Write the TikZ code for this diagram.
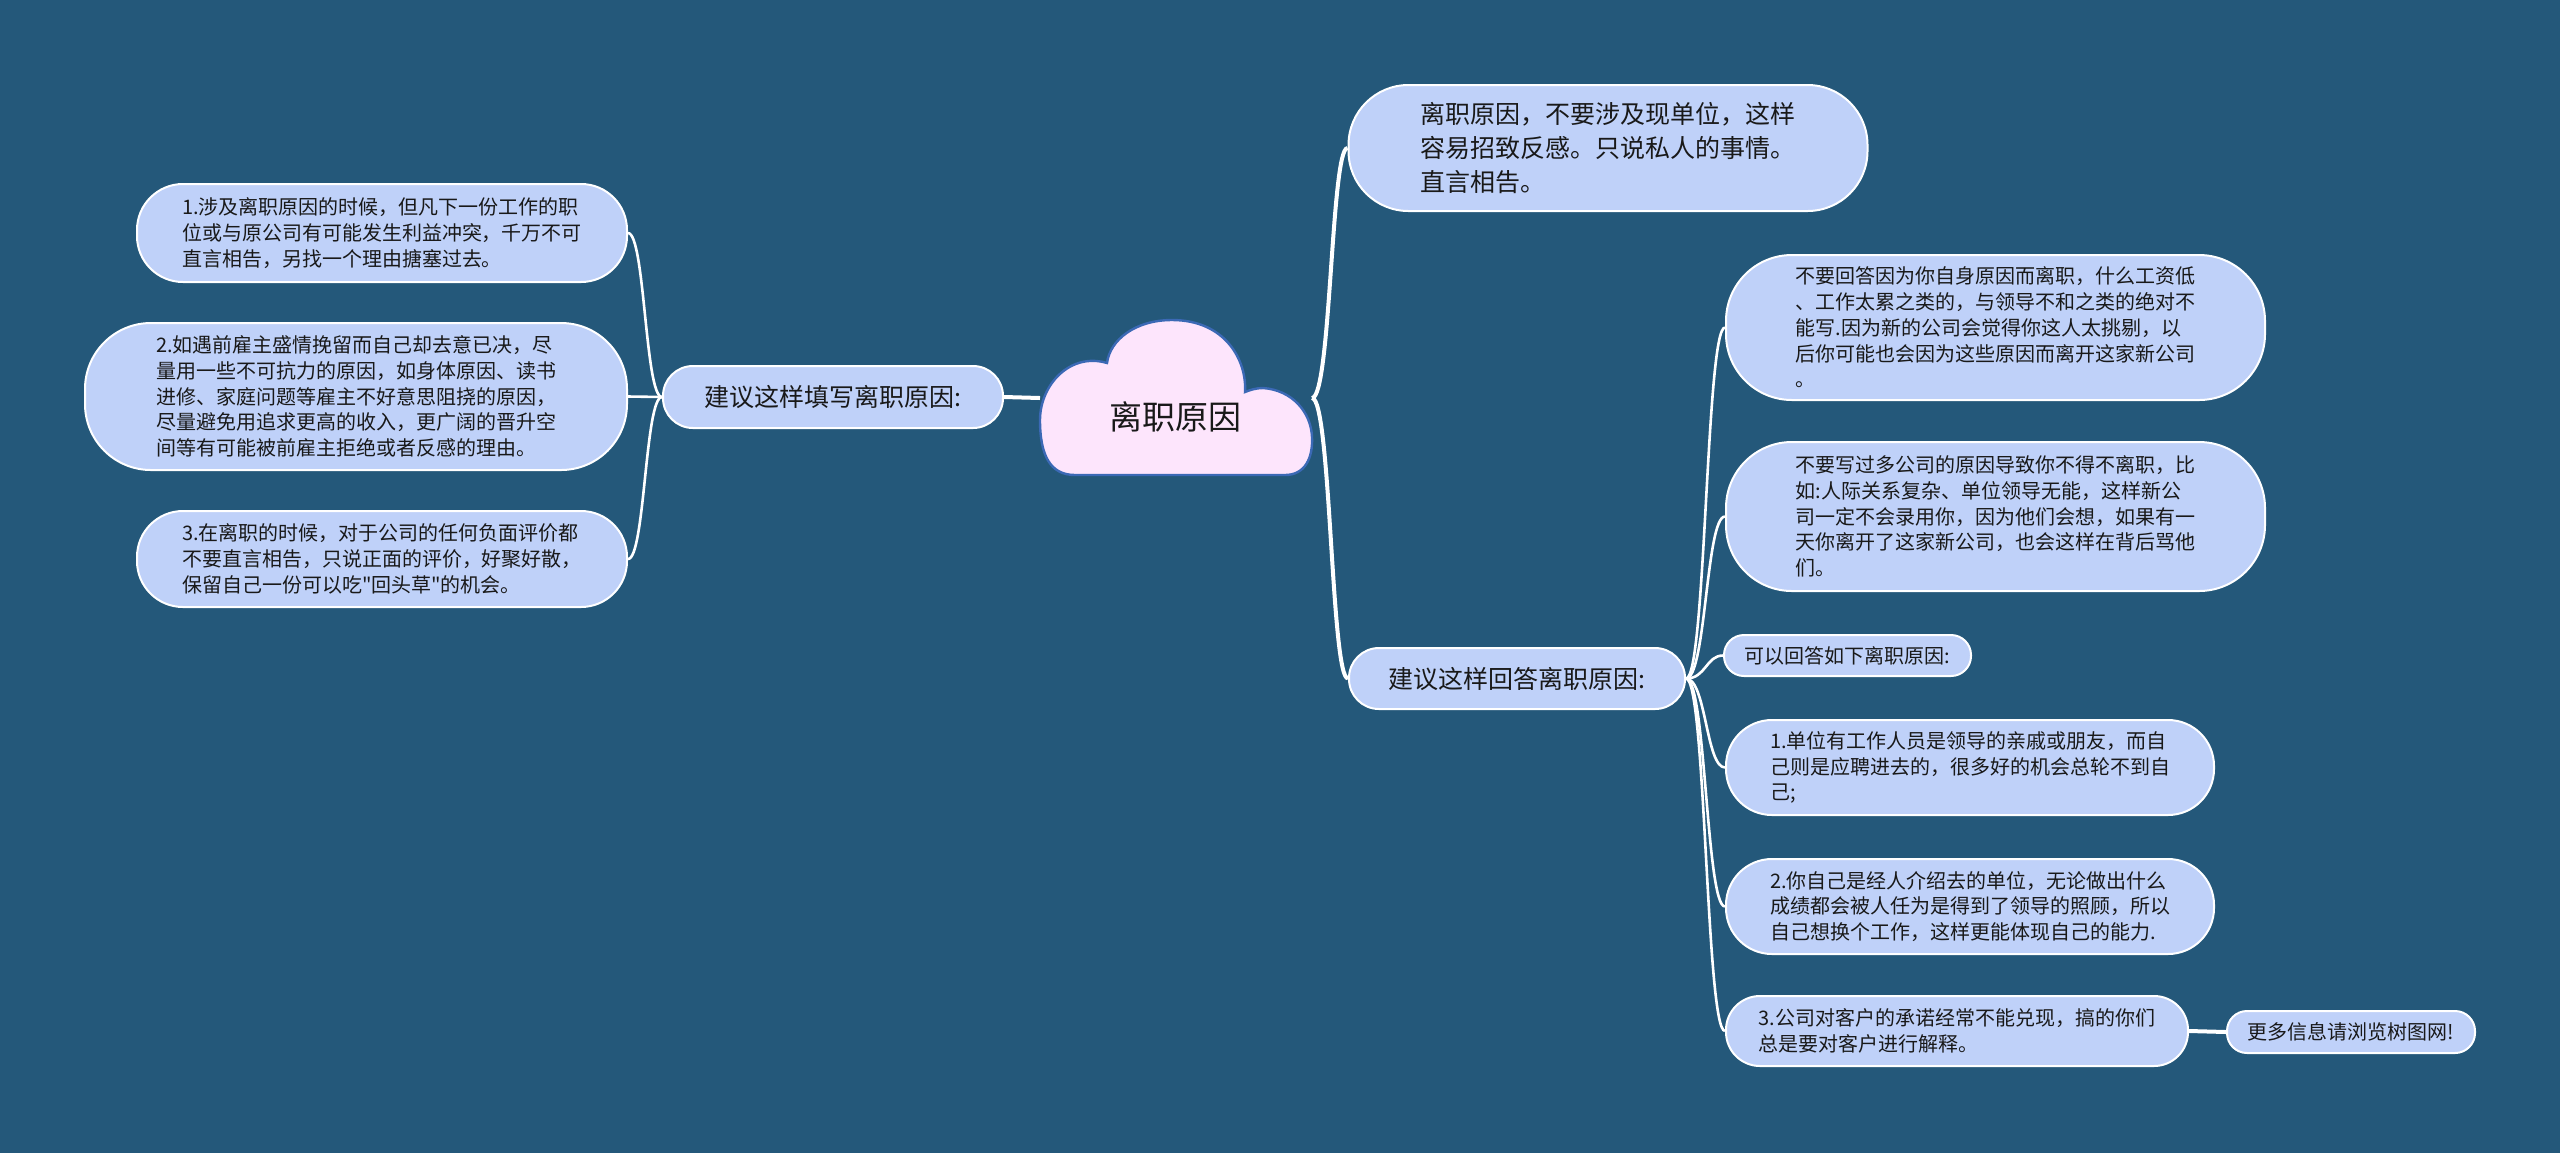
\documentclass[tikz,border=0pt]{standalone}
\usepackage{fontspec}
\setmainfont{Noto Sans CJK SC}
\definecolor{bg}{RGB}{36,88,122}
\definecolor{nodefill}{RGB}{191,209,249}
\definecolor{cloudfill}{RGB}{253,229,252}
\definecolor{cloudline}{RGB}{59,105,181}
\definecolor{txt}{RGB}{25,25,25}
\begin{document}
\begin{tikzpicture}[x=0.5pt,y=-0.5pt,
  box/.style={draw=white, line width=1pt, fill=nodefill, text=txt, align=left, inner sep=0pt,
    font=\fontsize{10pt}{12.85pt}\selectfont},
  bigbox/.style={box, font=\fontsize{12.5pt}{17pt}\selectfont},
  link/.style={draw=white, line width=1.3pt},
  mainlink/.style={draw=white, line width=2pt}]
\fill[bg] (0,0) rectangle (2560,1153);
\useasboundingbox (0,0) rectangle (2560,1153);

% central cloud
\draw[fill=cloudfill, draw=cloudline, line width=1.2pt]
  (1075,475) -- (1285,475)
  .. controls (1305,475) and (1313,458) .. (1312,437)
  .. controls (1311,412) and (1292,390) .. (1263,388)
  .. controls (1256,388) and (1250,390) .. (1245,392)
  .. controls (1247,360) and (1225,320) .. (1172,320)
  .. controls (1135,320) and (1110,340) .. (1107,363)
  .. controls (1070,352) and (1040,385) .. (1040,420)
  .. controls (1040,455) and (1050,475) .. (1075,475) -- cycle;
\node[text=txt, font=\fontsize{16.5pt}{20pt}\selectfont] (center) at (1175,417) {离职原因};
\coordinate (cL) at (1040,398);
\coordinate (cR) at (1312,398);

% left side
\node[bigbox, minimum width=170pt, minimum height=31pt, rounded corners=15pt] (lb) at (833,397) {建议这样填写离职原因:};
\node[box, minimum width=245pt, minimum height=49pt, rounded corners=23pt] (l1) at (382,233)
  {1.涉及离职原因的时候，但凡下一份工作的职\\位或与原公司有可能发生利益冲突，千万不可\\直言相告，另找一个理由搪塞过去。};
\node[box, minimum width=271pt, minimum height=73.5pt, rounded corners=33pt] (l2) at (356,396.5)
  {2.如遇前雇主盛情挽留而自己却去意已决，尽\\量用一些不可抗力的原因，如身体原因、读书\\进修、家庭问题等雇主不好意思阻挠的原因，\\尽量避免用追求更高的收入，更广阔的晋升空\\间等有可能被前雇主拒绝或者反感的理由。};
\node[box, minimum width=245pt, minimum height=48pt, rounded corners=23pt] (l3) at (382,559)
  {3.在离职的时候，对于公司的任何负面评价都\\不要直言相告，只说正面的评价，好聚好散，\\保留自己一份可以吃\textquotedbl 回头草\textquotedbl 的机会。};

% right side
\node[bigbox, minimum width=259.5pt, minimum height=63pt, rounded corners=30pt] (r0) at (1608,148)
  {离职原因，不要涉及现单位，这样\\容易招致反感。只说私人的事情。\\直言相告。};
\node[bigbox, minimum width=168pt, minimum height=30.5pt, rounded corners=15pt] (rb) at (1517,678.5) {建议这样回答离职原因:};
\node[box, minimum width=269.5pt, minimum height=72.5pt, rounded corners=33pt] (ra) at (1995.5,327.5)
  {不要回答因为你自身原因而离职，什么工资低\\、工作太累之类的，与领导不和之类的绝对不\\能写.因为新的公司会觉得你这人太挑剔，以\\后你可能也会因为这些原因而离开这家新公司\\。};
\node[box, minimum width=269.5pt, minimum height=74.5pt, rounded corners=33pt] (rbb) at (1995.5,516.5)
  {不要写过多公司的原因导致你不得不离职，比\\如:人际关系复杂、单位领导无能，这样新公\\司一定不会录用你，因为他们会想，如果有一\\天你离开了这家新公司，也会这样在背后骂他\\们。};
\node[box, minimum width=123.5pt, minimum height=20.5pt, rounded corners=10pt] (rc) at (1847.5,655.5) {可以回答如下离职原因:};
\node[box, minimum width=244pt, minimum height=47.5pt, rounded corners=23pt] (rd) at (1970,767.5)
  {1.单位有工作人员是领导的亲戚或朋友，而自\\己则是应聘进去的，很多好的机会总轮不到自\\己;};
\node[box, minimum width=244pt, minimum height=47.5pt, rounded corners=23pt] (re) at (1970,906.5)
  {2.你自己是经人介绍去的单位，无论做出什么\\成绩都会被人任为是得到了领导的照顾，所以\\自己想换个工作，这样更能体现自己的能力.};
\node[box, minimum width=231pt, minimum height=35pt, rounded corners=17pt] (rf) at (1957,1031)
  {3.公司对客户的承诺经常不能兑现，搞的你们\\总是要对客户进行解释。};
\node[box, minimum width=124pt, minimum height=21pt, rounded corners=10pt] (rg) at (2351,1032) {更多信息请浏览树图网!};

% connectors
\draw[mainlink] (cL) -- (lb.east);
\draw[link] (lb.west) .. controls (645,397) and (645,233) .. (l1.east);
\draw[link] (lb.west) -- (l2.east);
\draw[link] (lb.west) .. controls (645,397) and (645,559) .. (l3.east);

\draw[mainlink] (cR) .. controls (1331,398) and (1331,148) .. (r0.west);
\draw[mainlink] (cR) .. controls (1331,398) and (1331,678.5) .. (rb.west);

\draw[link] (rb.east) .. controls (1706,678.5) and (1706,327.5) .. (ra.west);
\draw[link] (rb.east) .. controls (1706,678.5) and (1706,516.5) .. (rbb.west);
\draw[link] (rb.east) .. controls (1706,678.5) and (1706,655.5) .. (rc.west);
\draw[link] (rb.east) .. controls (1706,678.5) and (1706,767.5) .. (rd.west);
\draw[link] (rb.east) .. controls (1706,678.5) and (1706,906.5) .. (re.west);
\draw[link] (rb.east) .. controls (1706,678.5) and (1706,1031) .. (rf.west);
\draw[mainlink] (rf.east) -- (rg.west);
\end{tikzpicture}
\end{document}
